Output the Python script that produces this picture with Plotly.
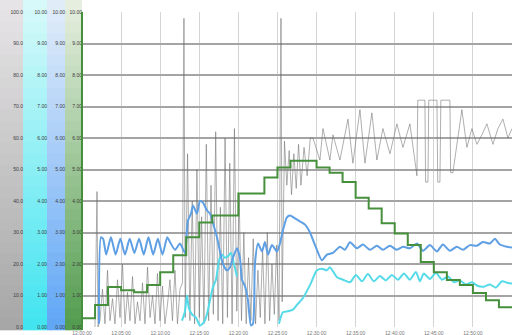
import plotly.graph_objects as go

# ---------------- data ----------------
tick_minutes = [0, 5, 10, 15, 20, 25, 30, 35, 40, 45, 50, 55]
tick_labels = ["12:00:00", "12:05:00", "12:10:00", "12:15:00", "12:20:00", "12:25:00",
               "12:30:00", "12:35:00", "12:40:00", "12:45:00", "12:50:00", "12:55:00"]

gray_t = [1.66, 1.92, 2.05, 2.30, 2.62, 2.94, 3.26, 3.58, 3.90, 4.22, 4.54, 4.86, 5.18, 5.50,
          5.82, 6.14, 6.46, 6.78, 7.10, 7.42, 7.74, 8.06, 8.38, 8.70, 9.02, 9.34, 9.65, 9.97,
          10.29, 10.61, 10.93, 11.25, 11.57, 11.89, 12.21, 12.53, 12.85, 13.04, 13.2, 13.5,
          13.8, 14.1, 14.4, 14.7, 15.0, 15.3, 15.6, 15.9, 16.2, 16.5, 16.8, 17.1, 17.4, 17.7,
          18.0, 18.3, 18.6, 18.9, 19.2, 19.5, 19.8, 20.1, 20.4, 20.7, 21.0, 21.3, 21.6, 21.9,
          22.2, 22.5, 22.8, 23.1, 23.4, 23.7, 24.0, 24.3, 24.6, 24.9, 25.2, 25.45, 25.6, 25.9,
          26.2, 26.5, 26.8, 27.1, 27.4, 27.7, 28.0, 28.4, 28.8, 29.2, 29.54, 30.43, 30.82,
          31.71, 32.1, 32.99, 34.02, 34.65, 35.55, 36.19, 37.08, 37.72, 38.49, 39.39, 40.28,
          41.05, 41.94, 42.84, 42.95, 43.86, 43.95, 44.25, 44.35, 45.4, 45.5, 45.78, 45.9,
          47.06, 47.15, 47.44, 48.59, 49.23, 49.87, 50.51, 51.15, 51.79, 52.56, 53.2, 53.84,
          54.48, 55.0]
gray_v = [0, 43, 0, 2, 12, 1, 18, 2, 9, 1, 15, 3, 20, 1, 11, 2, 16, 1, 8, 2, 14, 1, 19, 3,
          10, 1, 17, 2, 13, 1, 7, 15, 2, 18, 1, 12, 14, 98, 3, 55, 2, 40, 1, 50, 3, 35, 1, 58,
          2, 45, 4, 62, 2, 38, 1, 60, 3, 52, 1, 63, 5, 42, 2, 30, 1, 22, 2, 28, 1, 18, 3, 25,
          1, 30, 2, 20, 4, 26, 2, 98, 8, 59, 45, 56, 42, 55, 44, 58, 45, 57, 48, 60, 60, 53,
          63, 53, 61, 53, 66, 52, 69, 52, 68, 53, 63, 55, 64.5, 57, 64.5, 48, 72, 72, 46, 46,
          72, 72, 46, 46, 72, 72, 49, 49, 69, 57, 63, 58, 61, 64.5, 58, 63, 66, 60, 63]

cyan_t = [12.79, 13.17, 13.43, 13.68, 14.07, 14.58, 15.09, 15.6, 15.98, 16.37, 16.75, 17.14,
          17.52, 17.9, 18.29, 18.67, 19.05, 19.44, 19.82, 22.0, 25.19, 25.7, 26.34, 26.98,
          27.49, 28.26, 29.16, 30.05, 30.69, 31.33, 31.71, 32.61, 33.38, 34.27, 35.04, 35.81,
          36.57, 37.34, 38.11, 38.87, 39.64, 40.41, 41.18, 41.94, 42.71, 43.22, 43.73, 44.5,
          45.27, 46.04, 46.8, 47.57, 48.34, 49.1, 49.87, 50.64, 51.41, 52.17, 52.94, 53.71,
          54.48, 55.0]
cyan_v = [0.2, 0.5, 1.0, 0.6, 0.4, 0.3, 0.05, 0.15, 0.4, 0.85, 1.27, 1.5, 2.1, 2.3, 2.2,
          2.25, 2.35, 2.0, 1.6, None, 0.1, 0.47, 0.5, 0.55, 0.7, 0.92, 1.33, 1.8, 1.85, 1.8,
          1.9, 1.58, 1.5, 1.42, 1.65, 1.45, 1.68, 1.45, 1.62, 1.48, 1.65, 1.5, 1.7, 1.5, 1.75,
          1.45, 1.7, 1.52, 1.72, 1.5, 1.6, 1.42, 1.48, 1.35, 1.42, 1.3, 1.28, 1.35, 1.25, 1.45,
          1.4, 1.38]

blue_t = [2.17, 2.43, 2.7, 3.1, 3.7, 4.3, 4.9, 5.5, 6.1, 6.7, 7.3, 7.9, 8.5, 9.1, 9.7, 10.3,
          10.9, 11.25, 11.9, 12.53, 13.17, 13.43, 13.55, 13.94, 14.19, 14.7, 15.09, 15.47,
          15.98, 16.37, 16.75, 17.26, 17.65, 18.03, 18.54, 18.93, 19.31, 19.82, 20.2, 20.46,
          20.84, 21.23, 21.61, 21.87, 22.12, 22.51, 23.02, 23.4, 23.79, 24.3, 24.94, 25.32,
          25.7, 26.21, 26.6, 27.24, 27.88, 28.52, 29.16, 29.8, 30.69, 31.33, 32.1, 32.99,
          33.63, 34.27, 35.17, 35.93, 36.83, 37.72, 38.49, 39.39, 40.28, 41.05, 41.94, 42.84,
          43.61, 44.5, 45.4, 46.16, 47.06, 47.95, 48.72, 49.62, 50.51, 51.28, 52.17, 52.81,
          53.45, 54.35, 55.0]
blue_v = [0.1, 2.85, 2.8, 2.3, 2.85, 2.3, 2.8, 2.3, 2.8, 2.35, 2.8, 2.3, 2.85, 2.3, 2.8, 2.3,
          2.85, 2.7, 2.45, 2.65, 2.35, 3.07, 3.38, 3.6, 3.86, 3.6, 4.0, 3.95, 3.7, 3.6, 3.3,
          2.85, 2.4, 2.0, 1.8, 1.9, 2.2, 2.5, 2.2, 1.5, 1.3, 0.85, 0.05, 0.1, 2.0, 2.65, 2.4,
          2.7, 2.3, 2.6, 2.4, 2.65, 3.07, 3.48, 3.54, 3.45, 3.35, 3.25, 3.0, 2.6, 2.12, 2.3,
          2.35, 2.55, 2.45, 2.69, 2.5, 2.62, 2.45, 2.58, 2.45, 2.58, 2.45, 2.55, 2.5, 2.65,
          2.42, 2.6, 2.4, 2.62, 2.42, 2.55, 2.45, 2.6, 2.58, 2.7, 2.65, 2.8, 2.62, 2.55, 2.52]

green_t = [0, 1.67, 3.33, 5.0, 6.67, 8.33, 10.0, 11.67, 13.33, 15.0, 16.67, 18.33, 20.0,
           21.67, 23.33, 25.0, 26.67, 28.33, 30.0, 31.67, 33.33, 35.0, 36.67, 38.33, 40.0,
           41.67, 43.33, 45.0, 46.67, 48.33, 50.0, 51.67, 53.33, 55.0]
green_v = [0.28, 0.7, 1.27, 1.17, 1.1, 1.33, 1.74, 2.28, 2.85, 3.32, 3.54, 3.54, 4.24, 4.24,
           4.75, 5.06, 5.28, 5.28, 5.06, 4.9, 4.6, 4.1, 3.76, 3.29, 2.97, 2.6, 2.06, 1.74,
           1.49, 1.33, 1.08, 0.85, 0.63, 0.63]

# ---------------- figure ----------------
W, H = 512, 335
fig = go.Figure()
fig.add_trace(go.Scatter(x=gray_t, y=gray_v, mode="lines", yaxis="y",
                         line=dict(color="rgba(110,110,110,0.55)", width=1)))
fig.add_trace(go.Scatter(x=green_t, y=green_v, mode="lines", yaxis="y4", line_shape="hv",
                         line=dict(color="#468f3c", width=2)))
fig.add_trace(go.Scatter(x=cyan_t, y=cyan_v, mode="lines", yaxis="y2", connectgaps=False,
                         line=dict(color="#55dbe8", width=2, shape="spline", smoothing=0.6)))
fig.add_trace(go.Scatter(x=blue_t, y=blue_v, mode="lines", yaxis="y3",
                         line=dict(color="#5f9fe4", width=2, shape="spline", smoothing=0.6)))

# colored axis columns (vertical gradient strips)
cols = [  # (x0 px, x1 px, top rgb, bottom rgb)
    (0, 23, (232, 230, 232), (166, 166, 166)),
    (23, 47, (218, 250, 250), (64, 228, 240)),
    (47, 65, (228, 238, 250), (96, 166, 246)),
    (65, 82, (232, 240, 226), (82, 156, 78)),
]
shapes = []
N = 30
ytop, ybot = 1 + 12 / 315, -3 / 315
for x0, x1, ct, cb in cols:
    for i in range(N):
        f = (i + 0.5) / N
        c = tuple(int(ct[k] + (cb[k] - ct[k]) * f) for k in range(3))
        y1 = ytop - (ytop - ybot) * i / N
        y0 = ytop - (ytop - ybot) * (i + 1) / N
        shapes.append(dict(type="rect", xref="paper", yref="paper", x0=x0 / W, x1=x1 / W,
                           y0=y0 - 0.001, y1=y1 + 0.001, layer="below",
                           line=dict(width=0), fillcolor="rgb(%d,%d,%d)" % c))
shapes.append(dict(type="line", xref="paper", yref="paper", x0=82 / W, x1=82 / W,
                   y0=ybot, y1=1, line=dict(color="#468f3c", width=2)))

tickfont = dict(family="Liberation Sans, Arial", size=5, color="#3a3a3a")
ax_common = dict(ticks="", showline=False, zeroline=False, tickfont=tickfont,
                 side="left", anchor="free", fixedrange=True, automargin=False)

fig.update_layout(
    width=W, height=H,
    margin=dict(l=0, r=0, t=12, b=8, pad=0),
    paper_bgcolor="white", plot_bgcolor="white",
    showlegend=False,
    shapes=shapes,
    xaxis=dict(domain=[82 / W, 1], range=[0, 55], tickvals=tick_minutes, ticktext=tick_labels,
               showgrid=True, gridcolor="#d4d4d4", gridwidth=1, zeroline=False, ticks="",
               automargin=False, ticklabelstandoff=2,
               tickfont=dict(family="Liberation Sans, Arial", size=5, color="#777777")),
    yaxis=dict(range=[0, 100], dtick=10, tickformat=".1f", position=23 / W,
               showgrid=True, gridcolor="#a4a4a4", gridwidth=1.5, **ax_common),
    yaxis2=dict(range=[0, 10], dtick=1, tickformat=".2f", position=47 / W, overlaying="y",
                showgrid=False, **ax_common),
    yaxis3=dict(range=[0, 10], dtick=1, tickformat=".2f", position=65 / W, overlaying="y",
                showgrid=False, **ax_common),
    yaxis4=dict(range=[0, 10], dtick=1, tickformat=".2f", position=82 / W, overlaying="y",
                showgrid=False, **ax_common),
)

fig.write_html("out.html", config={"displayModeBar": False},
               post_script="document.body.style.margin='0';document.body.style.overflow='hidden';")
